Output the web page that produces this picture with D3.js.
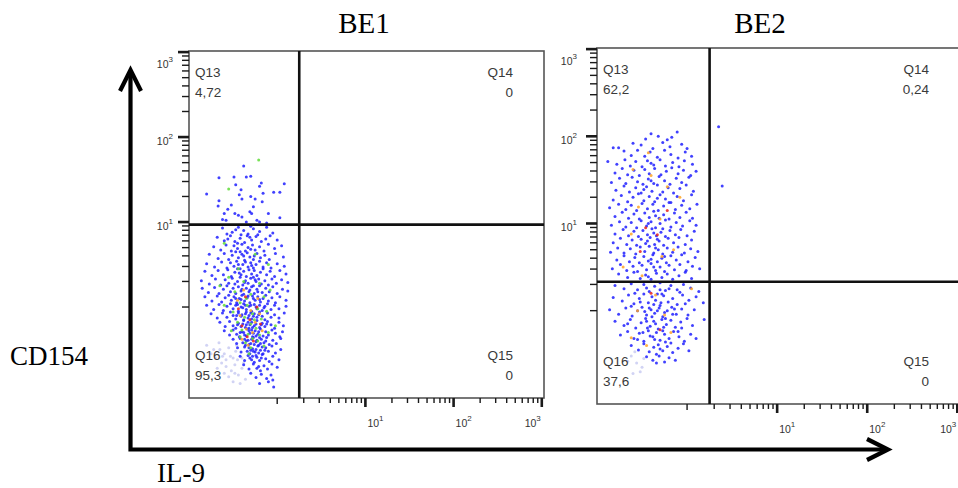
<!DOCTYPE html>
<html>
<head>
<meta charset="utf-8">
<script src="https://cdn.jsdelivr.net/npm/d3@7"></script>
<style>
  html, body { margin: 0; padding: 0; background: #fff; }
  svg { display: block; }
</style>
</head>
<body>
<svg id="chart" width="958" height="488"></svg>
<script>
// ---- chart text ----
const titles = ["BE1", "BE2"];
const axisTitleY = "CD154";
const axisTitleX = "IL-9";
const quadrantNames = ["Q13", "Q14", "Q15", "Q16"];
const be1Percent = ["4,72", "0", "0", "95,3"];
const be2Percent = ["62,2", "0,24", "0", "37,6"];

// ---- axis decades (log10 units) ----
const labeledDecades = [1, 2, 3];
const minorDecades = [0, 1, 2];
const minorMultipliers = [2, 3, 4, 5, 6, 7, 8, 9];

// ---- quadrant gates, log10 of IL-9 and CD154 ----
const gateIL9 = [0.25, 0.25];
const gateCD154 = [0.97, 0.332];

// ---- events, [log10 IL-9, log10 CD154], grouped by density colour ----
const be1Blue = [
  [-0.38,1.66],[-0.3,1.54],[-0.35,1.53],[-0.49,1.53],[-0.66,1.52],[-0.47,1.44],[-0.8,1.33],[-0.18,1.46],[-0.2,1.42],[0.08,1.45],
  [-0.16,1.34],[-0.04,1.35],[0.03,1.35],[-0.43,1.32],[-0.4,1.27],[-0.66,1.25],[-0.25,1.27],[-0.17,1.24],[-0.67,1.19],[-0.56,1.15],
  [-0.31,1.12],[-0.29,1.1],[-0.48,1.1],[0.03,1.05],[-0.4,1.06],[-0.23,1.02],[-0.12,0.99],[-0.58,1.02],[-0.52,1.2],[-0.35,1.0],
  [-0.44,1.08],[-0.6,1.1],[-0.27,1.18],[-0.1,1.1],[-0.41,1.38],[-0.3,1.3],[-0.62,1.03],[-0.2,1.0],
  [-0.62,.93],[-0.51,.88],[-0.44,.94],[-0.38,.9],[-0.33,.86],[-0.27,.92],[-0.2,.89],[-0.12,.94],[-0.05,.87],[-0.57,.86],[-0.41,.85],[-0.3,.95],[-0.22,.85],[-0.47,.91],
  [-0.68,.82],[-0.6,.78],[-0.53,.84],[-0.48,.77],[-0.42,.81],[-0.37,.76],[-0.34,.84],[-0.29,.79],[-0.24,.83],[-0.18,.77],[-0.13,.8],[-0.08,.84],[0,.79],[-0.45,.75],[-0.31,.82],[-0.56,.8],
  [-0.72,.71],[-0.64,.67],[-0.58,.73],[-0.52,.66],[-0.49,.72],[-0.45,.69],[-0.4,.74],[-0.36,.66],[-0.33,.7],[-0.28,.73],[-0.25,.67],[-0.2,.71],[-0.15,.66],[-0.1,.74],[-0.03,.69],[0.05,.72],[-0.42,.65],[-0.3,.68],
  [-0.77,.62],[-0.67,.57],[-0.6,.63],[-0.55,.56],[-0.51,.61],[-0.47,.65],[-0.44,.58],[-0.4,.62],[-0.37,.55],[-0.34,.64],[-0.31,.59],[-0.27,.56],[-0.23,.63],[-0.19,.58],[-0.14,.61],[-0.09,.56],[-0.02,.63],[0.07,.59],[-0.38,.6],[-0.26,.6],
  [-0.8,.51],[-0.71,.47],[-0.63,.53],[-0.57,.46],[-0.53,.52],[-0.49,.48],[-0.46,.54],[-0.42,.45],[-0.39,.5],[-0.36,.53],[-0.33,.47],[-0.3,.52],[-0.27,.46],[-0.24,.5],[-0.2,.54],[-0.16,.47],[-0.12,.52],[-0.07,.46],[0,.51],[0.08,.48],[-0.44,.5],[-0.29,.49],
  [-0.82,.42],[-0.74,.37],[-0.67,.43],[-0.61,.38],[-0.56,.44],[-0.52,.36],[-0.48,.41],[-0.45,.45],[-0.41,.38],[-0.38,.42],[-0.35,.36],[-0.32,.44],[-0.29,.39],[-0.26,.43],[-0.23,.37],[-0.19,.41],[-0.16,.45],[-0.12,.38],[-0.08,.42],[-0.03,.36],[0.03,.43],[0.1,.39],[-0.43,.4],[-0.27,.35],
  [-0.86,.31],[-0.77,.27],[-0.7,.33],[-0.64,.26],[-0.59,.32],[-0.55,.28],[-0.51,.34],[-0.48,.27],[-0.45,.3],[-0.42,.35],[-0.39,.26],[-0.36,.31],[-0.33,.28],[-0.3,.34],[-0.27,.25],[-0.24,.3],[-0.21,.33],[-0.18,.27],[-0.14,.31],[-0.1,.26],[-0.06,.33],[-0.01,.28],[0.05,.32],[0.12,.29],[-0.37,.29],[-0.25,.32],
  [-0.85,.22],[-0.78,.17],[-0.71,.23],[-0.66,.16],[-0.61,.21],[-0.57,.25],[-0.53,.18],[-0.5,.22],[-0.47,.16],[-0.44,.24],[-0.41,.19],[-0.38,.15],[-0.35,.22],[-0.32,.18],[-0.29,.24],[-0.26,.16],[-0.23,.21],[-0.2,.25],[-0.17,.17],[-0.13,.22],[-0.09,.18],[-0.05,.24],[0,.16],[0.06,.21],[0.12,.19],[-0.4,.21],[-0.31,.2],[-0.22,.18],
  [-0.82,.12],[-0.74,.07],[-0.68,.13],[-0.63,.06],[-0.59,.11],[-0.55,.14],[-0.52,.08],[-0.49,.12],[-0.46,.05],[-0.43,.1],[-0.4,.14],[-0.37,.07],[-0.34,.11],[-0.31,.05],[-0.28,.13],[-0.25,.08],[-0.22,.12],[-0.19,.06],[-0.16,.1],[-0.13,.14],[-0.1,.07],[-0.06,.11],[-0.02,.05],[0.03,.12],[0.1,.08],[-0.41,.09],[-0.33,.13],[-0.27,.1],[-0.2,.09],[-0.47,.1],
  [-0.8,.02],[-0.72,-.03],[-0.66,.03],[-0.61,-.04],[-0.57,.01],[-0.53,.04],[-0.5,-.02],[-0.47,.02],[-0.44,-.05],[-0.41,0],[-0.38,.04],[-0.35,-.03],[-0.32,.01],[-0.29,-.05],[-0.26,.03],[-0.23,-.02],[-0.2,.02],[-0.17,-.04],[-0.14,.01],[-0.11,.04],[-0.07,-.03],[-0.03,.02],[0.02,-.02],[0.1,.01],[-0.39,-.01],[-0.3,.02],[-0.24,0],[-0.36,.02],[-0.45,.03],[-0.15,-.01],
  [-0.75,-.08],[-0.68,-.13],[-0.62,-.07],[-0.57,-.12],[-0.53,-.06],[-0.5,-.1],[-0.47,-.14],[-0.44,-.07],[-0.41,-.11],[-0.38,-.15],[-0.35,-.06],[-0.32,-.1],[-0.29,-.14],[-0.26,-.08],[-0.23,-.12],[-0.2,-.06],[-0.17,-.11],[-0.14,-.15],[-0.11,-.07],[-0.07,-.12],[-0.03,-.09],[0.02,-.13],[0.08,-.07],[-0.4,-.09],[-0.33,-.13],[-0.27,-.11],[-0.21,-.09],[-0.36,-.08],[-0.3,-.07],[-0.46,-.1],
  [-0.65,-.18],[-0.59,-.23],[-0.54,-.17],[-0.5,-.22],[-0.47,-.25],[-0.44,-.19],[-0.41,-.23],[-0.38,-.16],[-0.35,-.21],[-0.32,-.25],[-0.29,-.18],[-0.26,-.22],[-0.23,-.16],[-0.2,-.24],[-0.17,-.19],[-0.14,-.23],[-0.11,-.17],[-0.07,-.21],[-0.03,-.25],[0.02,-.18],[0.07,-.22],[-0.39,-.2],[-0.33,-.18],[-0.28,-.24],[-0.24,-.2],[-0.36,-.24],[-0.31,-.21],[-0.45,-.21],[-0.18,-.21],[-0.12,-.2],
  [-0.6,-.28],[-0.54,-.33],[-0.5,-.27],[-0.46,-.32],[-0.43,-.35],[-0.4,-.29],[-0.37,-.33],[-0.34,-.26],[-0.31,-.31],[-0.28,-.35],[-0.25,-.28],[-0.22,-.32],[-0.19,-.26],[-0.16,-.34],[-0.13,-.29],[-0.1,-.33],[-0.06,-.27],[-0.02,-.31],[0.03,-.35],[0.06,-.29],[-0.38,-.3],[-0.32,-.28],[-0.27,-.31],[-0.21,-.29],[-0.35,-.34],[-0.29,-.27],[-0.24,-.34],[-0.42,-.3],
  [-0.5,-.38],[-0.46,-.43],[-0.42,-.37],[-0.39,-.42],[-0.36,-.45],[-0.33,-.39],[-0.3,-.43],[-0.27,-.36],[-0.24,-.41],[-0.21,-.45],[-0.18,-.38],[-0.15,-.42],[-0.12,-.36],[-0.09,-.44],[-0.05,-.39],[-0.01,-.43],[0.04,-.37],[-0.35,-.4],[-0.29,-.38],[-0.23,-.39],[-0.19,-.43],[-0.32,-.44],[-0.26,-.44],[-0.13,-.4],[-0.37,-.38],[-0.2,-.36],
  [-0.45,-.48],[-0.41,-.53],[-0.37,-.47],[-0.34,-.52],[-0.31,-.55],[-0.28,-.49],[-0.25,-.53],[-0.22,-.46],[-0.19,-.51],[-0.16,-.55],[-0.13,-.48],[-0.1,-.52],[-0.06,-.46],[-0.02,-.54],[0.04,-.5],[-0.32,-.48],[-0.27,-.52],[-0.21,-.54],[-0.17,-.47],[-0.3,-.51],[-0.24,-.5],[-0.14,-.51],
  [-0.42,-.58],[-0.37,-.63],[-0.33,-.57],[-0.29,-.62],[-0.26,-.65],[-0.23,-.59],[-0.2,-.63],[-0.17,-.56],[-0.13,-.61],[-0.09,-.64],[-0.05,-.58],[0.02,-.62],[-0.31,-.6],[-0.24,-.57],[-0.18,-.6],[-0.28,-.58],
  [-0.38,-.68],[-0.32,-.73],[-0.27,-.67],[-0.23,-.72],[-0.19,-.75],[-0.15,-.69],[-0.11,-.73],[-0.06,-.67],[0,-.71],[-0.21,-.7],
  [-0.3,-.78],[-0.24,-.83],[-0.18,-.79],[-0.12,-.84],[-0.07,-.8],[-0.05,-.86],
  [-0.2,-.9],[-0.1,-.88],[-0.04,-.94]
];
const be1Green = [
  [-0.21,1.73],[-0.55,1.39],[-0.6,.75],[-0.1,.5],
  [-0.44,.45],[-0.25,.62],[-0.55,.35],[-0.38,.3],[-0.2,.28],[-0.48,.18],[-0.3,.15],[-0.15,.12],[-0.42,.05],[-0.34,.02],
  [-0.22,-.02],[-0.5,-.06],[-0.28,-.08],[-0.37,-.12],[-0.18,-.14],[-0.45,-.18],[-0.3,-.2],[-0.24,-.25],[-0.4,-.27],[-0.33,-.32],
  [-0.2,-.33],[-0.28,-.37],[-0.36,-.42],[-0.22,-.4],[-0.15,-.46],[-0.3,-.48],[-0.42,-.35],[-0.26,-.15],[-0.12,-.05],[-0.35,.1],
  [-0.6,.02],[-0.08,.2],[-0.52,-.28],[-0.1,-.3],[-0.32,-.55],[-0.65,.25],[-0.02,-.22]
];
const be1Orange = [
  [-0.38,.2],[-0.3,-.04],[-0.42,-.1],[-0.25,-.18],[-0.35,-.26],[-0.28,-.3],[-0.2,-.08],[-0.45,.08],[-0.33,-.45],[-0.22,.1],[-0.4,-.38],[-0.17,-.28]
];
const be1Red = [
  [-0.36,.12],[-0.31,-.15],[-0.4,-.22],[-0.27,-.4],[-0.23,0],[-0.34,-.35],[-0.44,-.02],[-0.19,-.2]
];
const be1Pale = [
  [-0.8,-.45],[-0.72,-.5],[-0.66,-.42],[-0.6,-.55],[-0.55,-.48],[-0.5,-.6],[-0.47,-.52],[-0.7,-.6],[-0.63,-.66],[-0.58,-.7],
  [-0.52,-.75],[-0.48,-.68],[-0.44,-.8],[-0.4,-.72],[-0.55,-.82],[-0.62,-.58],[-0.75,-.55],[-0.68,-.72],[-0.45,-.62],[-0.5,-.88],
  [-0.42,-.9],[-0.36,-.85],[-0.58,-.62],[-0.53,-.58],[-0.65,-.5],[-0.46,-.45],[-0.4,-.6],[-0.6,-.78],[-0.38,-.66],[-0.48,-.78]
];

const be2Blue = [
  [0.35,2.11],[0.39,1.43],
  [-0.46,1.97],[-0.32,2.0],[-0.11,2.05],[-0.22,1.96],[-0.4,2.03],[-0.17,1.99],
  [-0.82,1.87],[-0.76,1.87],[-0.6,1.92],[-0.51,1.9],[-0.38,1.86],[-0.27,1.93],[-0.19,1.88],[-0.06,1.91],[0,1.86],
  [-0.88,1.71],[-0.7,1.83],[-0.62,1.78],[-0.55,1.84],[-0.47,1.77],[-0.41,1.82],[-0.33,1.76],[-0.25,1.84],[-0.18,1.79],[-0.1,1.75],[-0.02,1.82],[0.05,1.77],
  [-0.78,1.68],[-0.69,1.73],[-0.63,1.66],[-0.57,1.71],[-0.5,1.65],[-0.44,1.72],[-0.37,1.67],[-0.3,1.73],[-0.24,1.66],[-0.16,1.7],[-0.09,1.65],[-0.03,1.72],[0.06,1.68],[-0.4,1.69],
  [-0.8,1.58],[-0.72,1.63],[-0.66,1.56],[-0.59,1.61],[-0.53,1.55],[-0.47,1.62],[-0.42,1.57],[-0.36,1.63],[-0.29,1.56],[-0.23,1.6],[-0.17,1.64],[-0.1,1.57],[-0.04,1.61],[0.04,1.55],[0.1,1.6],
  [-0.84,1.47],[-0.75,1.52],[-0.68,1.46],[-0.61,1.53],[-0.55,1.48],[-0.49,1.45],[-0.43,1.51],[-0.37,1.46],[-0.31,1.54],[-0.25,1.49],[-0.19,1.45],[-0.12,1.52],[-0.06,1.47],[0.02,1.53],[-0.4,1.49],
  [-0.79,1.38],[-0.7,1.43],[-0.64,1.36],[-0.57,1.41],[-0.51,1.35],[-0.45,1.42],[-0.39,1.37],[-0.33,1.44],[-0.27,1.36],[-0.21,1.41],[-0.15,1.35],[-0.08,1.4],[-0.01,1.44],[0.07,1.37],[-0.48,1.39],
  [-0.82,1.27],[-0.73,1.32],[-0.66,1.25],[-0.6,1.3],[-0.54,1.34],[-0.48,1.26],[-0.42,1.31],[-0.36,1.25],[-0.3,1.33],[-0.24,1.28],[-0.18,1.24],[-0.11,1.31],[-0.04,1.26],[0.05,1.33],[-0.33,1.29],
  [-0.86,1.18],[-0.76,1.22],[-0.68,1.16],[-0.62,1.21],[-0.56,1.15],[-0.5,1.23],[-0.44,1.17],[-0.38,1.22],[-0.32,1.15],[-0.26,1.2],[-0.2,1.24],[-0.13,1.16],[-0.06,1.21],[0.03,1.17],[0.11,1.22],
  [-0.8,1.08],[-0.72,1.13],[-0.65,1.06],[-0.59,1.11],[-0.53,1.05],[-0.47,1.12],[-0.42,1.07],[-0.37,1.14],[-0.31,1.06],[-0.26,1.1],[-0.2,1.05],[-0.14,1.12],[-0.08,1.07],[-0.01,1.13],[0.06,1.06],[-0.35,1.09],
  [-0.84,.98],[-0.75,1.02],[-0.68,.96],[-0.62,1.01],[-0.56,.95],[-0.51,1.03],[-0.45,.97],[-0.4,1.02],[-0.35,.95],[-0.3,1.0],[-0.24,1.04],[-0.18,.96],[-0.12,1.01],[-0.05,.97],[0.03,1.03],[0.1,.98],[-0.43,1.0],
  [-0.8,.88],[-0.71,.93],[-0.65,.86],[-0.59,.91],[-0.54,.85],[-0.49,.92],[-0.44,.87],[-0.39,.94],[-0.34,.86],[-0.29,.9],[-0.24,.85],[-0.19,.92],[-0.13,.87],[-0.07,.93],[0,.86],[0.08,.91],[-0.37,.89],[-0.27,.94],
  [-0.82,.78],[-0.74,.83],[-0.67,.76],[-0.61,.81],[-0.56,.75],[-0.51,.82],[-0.46,.77],[-0.41,.84],[-0.36,.76],[-0.31,.8],[-0.26,.75],[-0.21,.83],[-0.15,.78],[-0.09,.84],[-0.02,.76],[0.05,.81],[-0.33,.82],[-0.44,.8],
  [-0.85,.67],[-0.77,.72],[-0.7,.66],[-0.63,.71],[-0.57,.65],[-0.52,.73],[-0.47,.68],[-0.42,.74],[-0.37,.66],[-0.32,.7],[-0.27,.65],[-0.22,.72],[-0.16,.67],[-0.1,.73],[-0.03,.66],[0.04,.71],[0.12,.68],[-0.35,.72],
  [-0.78,.58],[-0.7,.63],[-0.64,.56],[-0.58,.61],[-0.53,.55],[-0.48,.62],[-0.43,.57],[-0.38,.64],[-0.33,.56],[-0.28,.6],[-0.23,.55],[-0.18,.63],[-0.12,.58],[-0.06,.64],[0.01,.56],[0.09,.61],[-0.4,.59],[-0.25,.62],
  [-0.83,.48],[-0.74,.53],[-0.67,.46],[-0.6,.51],[-0.55,.45],[-0.5,.52],[-0.45,.47],[-0.4,.54],[-0.35,.46],[-0.3,.5],[-0.25,.45],[-0.2,.52],[-0.14,.47],[-0.08,.53],[-0.01,.46],[0.06,.51],[0.14,.48],[-0.37,.5],
  [-0.76,.42],[-0.66,.38],[-0.59,.44],[-0.52,.37],[-0.46,.41],[-0.4,.36],[-0.34,.43],[-0.28,.38],[-0.22,.42],[-0.16,.36],[-0.09,.4],[-0.02,.44],[0.05,.37],[-0.43,.39],
  [-0.8,.29],[-0.7,.25],[-0.62,.31],[-0.55,.24],[-0.48,.3],[-0.42,.22],[-0.36,.28],[-0.3,.32],[-0.24,.23],[-0.18,.29],[-0.11,.24],[-0.04,.3],[0.04,.26],[0.13,.22],
  [-0.82,.15],[-0.72,.11],[-0.65,.18],[-0.59,.08],[-0.53,.14],[-0.48,.19],[-0.43,.09],[-0.39,.16],[-0.35,.12],[-0.3,.06],[-0.26,.17],[-0.21,.1],[-0.16,.14],[-0.11,.07],[-0.05,.18],[0.02,.12],[0.1,.16],[0.18,.09],[-0.37,.07],[-0.28,.19],
  [-0.86,.01],[-0.76,-.04],[-0.68,.03],[-0.61,-.06],[-0.55,0],[-0.5,.04],[-0.45,-.05],[-0.4,.01],[-0.36,-.03],[-0.31,.03],[-0.27,-.07],[-0.22,0],[-0.17,.04],[-0.12,-.04],[-0.06,.02],[0.01,-.05],[0.08,.01],[-0.33,0],[-0.42,.03],[-0.25,-.02],
  [-0.8,-.12],[-0.7,-.17],[-0.63,-.1],[-0.57,-.2],[-0.51,-.14],[-0.46,-.09],[-0.41,-.18],[-0.37,-.12],[-0.32,-.21],[-0.28,-.1],[-0.23,-.16],[-0.18,-.11],[-0.13,-.19],[-0.07,-.13],[0,-.09],[0.06,-.17],[0.19,-.1],[-0.35,-.15],[-0.44,-.2],[-0.26,-.19],
  [-0.74,-.28],[-0.66,-.24],[-0.59,-.32],[-0.53,-.26],[-0.48,-.35],[-0.43,-.23],[-0.38,-.3],[-0.34,-.25],[-0.3,-.34],[-0.25,-.27],[-0.2,-.32],[-0.15,-.24],[-0.09,-.3],[-0.03,-.35],[0.04,-.27],[0.1,-.32],[-0.36,-.33],[-0.27,-.23],
  [-0.62,-.4],[-0.54,-.45],[-0.48,-.38],[-0.42,-.47],[-0.37,-.42],[-0.32,-.39],[-0.27,-.46],[-0.22,-.41],[-0.16,-.48],[-0.1,-.43],[-0.04,-.38],[0.02,-.46],[-0.3,-.44],
  [-0.45,-.53],[-0.38,-.57],[-0.31,-.52],[-0.25,-.59],[-0.2,-.54],[-0.13,-.57],[-0.34,-.6],
  [-0.58,.2],[-0.45,.26],[-0.33,.19],[-0.2,.25],[-0.08,.21],[-0.62,.05],[-0.47,-.01],[-0.29,.09],[-0.14,.02],[-0.02,.08],
  [-0.66,-.15],[-0.49,-.25],[-0.39,-.07],[-0.24,-.09],[-0.1,-.24],[-0.55,-.33],[-0.41,-.29],[-0.18,-.37],[-0.06,-.2],[-0.34,-.5],
  [-0.24,-.36],[-0.45,-.12],[-0.3,.24],[-0.16,-.04],[-0.52,.1]
];
const be2Orange = [
  [-0.43,1.81],[-0.54,1.19],[-0.22,1.42],[-0.3,1.05],[-0.62,.88],[-0.15,.7],[-0.71,.5],[-0.4,1.55],[-0.28,.62],[-0.5,.4],
  [-0.55,0],[-0.35,.18],[-0.62,-.31],[-0.25,-.05],[-0.45,-.4],[-0.18,-.25],[0.05,.25],[-0.08,1.3],[-0.6,1.62]
];
const be2Red = [
  [-0.33,.87],[-0.46,.95],[-0.4,.2],[-0.3,-.22],[-0.22,1.15],[-0.52,.68]
];
const be2Pale = [
  [-0.62,-.52],[-0.56,-.6],[-0.5,-.65],[-0.58,-.47],[-0.66,-.58],[-0.48,-.55],[-0.52,-.7],[-0.6,-.72]
];

// ---- layout ----
const sans = "'Liberation Sans', Arial, Helvetica, sans-serif";
const serif = "'Liberation Serif', 'Times New Roman', Times, serif";
const yLow = Math.log10(0.085), yHigh = Math.log10(1030);

const panels = [
  { title: titles[0], titleX: 364, pct: be1Percent, gx: gateIL9[0], gy: gateCD154[0],
    left: 189, right: 544, top: 51, bottom: 398, xHigh: 3.025, labelGap: 16,
    layers: [[be1Pale, "#c9cbf2"], [be1Blue, "#2020ff"], [be1Green, "#5fdc38"], [be1Orange, "#ffa526"], [be1Red, "#e8231c"]] },
  { title: titles[1], titleX: 760, pct: be2Percent, gx: gateIL9[1], gy: gateCD154[1],
    left: 597, right: 960, top: 48, bottom: 404, xHigh: 3.03, labelGap: 20,
    layers: [[be2Pale, "#c9cbf2"], [be2Blue, "#2020ff"], [be2Orange, "#ffa526"], [be2Red, "#e8231c"]] }
];

const svg = d3.select("#chart");

const minorTicks = [];
minorDecades.forEach(d => minorMultipliers.forEach(k => minorTicks.push(d + Math.log10(k))));

panels.forEach(p => {
  const x = d3.scaleLinear().domain([-1, p.xHigh]).range([p.left, p.right]);
  const y = d3.scaleLinear().domain([yLow, yHigh]).range([p.bottom, p.top]);
  const g = svg.append("g");

  // title
  g.append("text").attr("x", p.titleX).attr("y", 33).attr("text-anchor", "middle")
    .attr("font-family", serif).attr("font-size", 29).attr("fill", "#000").text(p.title);

  // events
  p.layers.forEach(([pts, color]) => {
    g.append("g").selectAll("circle").data(pts).join("circle")
      .attr("cx", d => x(d[0])).attr("cy", d => y(d[1])).attr("r", 1.5)
      .attr("fill", color).attr("fill-opacity", 0.85);
  });

  // frame
  g.append("rect").attr("x", p.left).attr("y", p.top)
    .attr("width", p.right - p.left).attr("height", p.bottom - p.top)
    .attr("fill", "none").attr("stroke", "#555").attr("stroke-width", 1.6);

  // tick marks on the CD154 (left) and IL-9 (bottom) axes, drawn as small rects
  const yTicks = (vals, len, w) => g.append("g").selectAll("rect").data(vals).join("rect")
    .attr("x", p.left - len).attr("y", d => y(d) - w / 2)
    .attr("width", len).attr("height", w).attr("fill", "#1a1a1a");
  const xTicks = (vals, len, w) => g.append("g").selectAll("rect").data(vals).join("rect")
    .attr("x", d => x(d) - w / 2).attr("y", p.bottom)
    .attr("width", w).attr("height", len).attr("fill", "#1a1a1a");
  yTicks(minorTicks.concat([0]), 7, 1.4);
  yTicks(labeledDecades, 11, 2.6);
  xTicks(minorTicks, 5, 1.4);
  xTicks([0], 6, 1.4);
  xTicks(labeledDecades, 9, 2.6);

  // tick labels 10^n
  const power = (sel, d) => {
    sel.append("tspan").attr("font-size", 10.5).text("10");
    sel.append("tspan").attr("font-size", 8).attr("dy", -6).text(d);
  };
  labeledDecades.forEach(d => {
    g.append("text").attr("x", p.left - p.labelGap)
      .attr("y", Math.max(y(d) + 8, p.top + 17))
      .attr("text-anchor", "end").attr("font-family", sans).attr("fill", "#333")
      .call(s => power(s, d));
    const last = d === labeledDecades[labeledDecades.length - 1];
    g.append("text").attr("x", last ? x(d) - 1 : x(d) + 2).attr("y", p.bottom + 29)
      .attr("text-anchor", last ? "end" : "start").attr("font-family", sans).attr("fill", "#333")
      .call(s => power(s, d));
  });

  // quadrant gates
  g.append("line").attr("x1", x(p.gx)).attr("x2", x(p.gx)).attr("y1", p.top).attr("y2", p.bottom)
    .attr("stroke", "#111").attr("stroke-width", 2.6);
  g.append("line").attr("x1", p.left).attr("x2", p.right).attr("y1", y(p.gy)).attr("y2", y(p.gy))
    .attr("stroke", "#111").attr("stroke-width", 2.6);

  // quadrant names and percentages
  const qText = (tx, ty, anchor, t) => g.append("text").attr("x", tx).attr("y", ty)
    .attr("text-anchor", anchor).attr("font-family", sans).attr("font-size", 13.5)
    .attr("fill", "#3a3a3a").text(t);
  const lx = p.left + 6, rx = p.right - 31;
  qText(lx, p.top + 26, "start", quadrantNames[0]);
  qText(lx, p.top + 46, "start", p.pct[0]);
  qText(rx, p.top + 26, "end", quadrantNames[1]);
  qText(rx, p.top + 46, "end", p.pct[1]);
  qText(rx, p.bottom - 38, "end", quadrantNames[2]);
  qText(rx, p.bottom - 18, "end", p.pct[2]);
  qText(lx, p.bottom - 38, "start", quadrantNames[3]);
  qText(lx, p.bottom - 18, "start", p.pct[3]);
});

// shared axis arrows and titles
const arrows = svg.append("g").attr("fill", "none").attr("stroke", "#000").attr("stroke-width", 4.2);
arrows.append("path").attr("d", "M130.5,72 V449.5 H886").attr("stroke-linejoin", "miter");
arrows.append("path").attr("d", "M120,91 L130.5,70 L141,91").attr("stroke-linejoin", "miter");
arrows.append("path").attr("d", "M867,439 L888,449.5 L867,460").attr("stroke-linejoin", "miter");

svg.append("text").attr("x", 10).attr("y", 365).attr("font-family", serif)
  .attr("font-size", 27).attr("fill", "#000").text(axisTitleY);
svg.append("text").attr("x", 157).attr("y", 482).attr("font-family", serif)
  .attr("font-size", 27).attr("fill", "#000").text(axisTitleX);
</script>
</body>
</html>
